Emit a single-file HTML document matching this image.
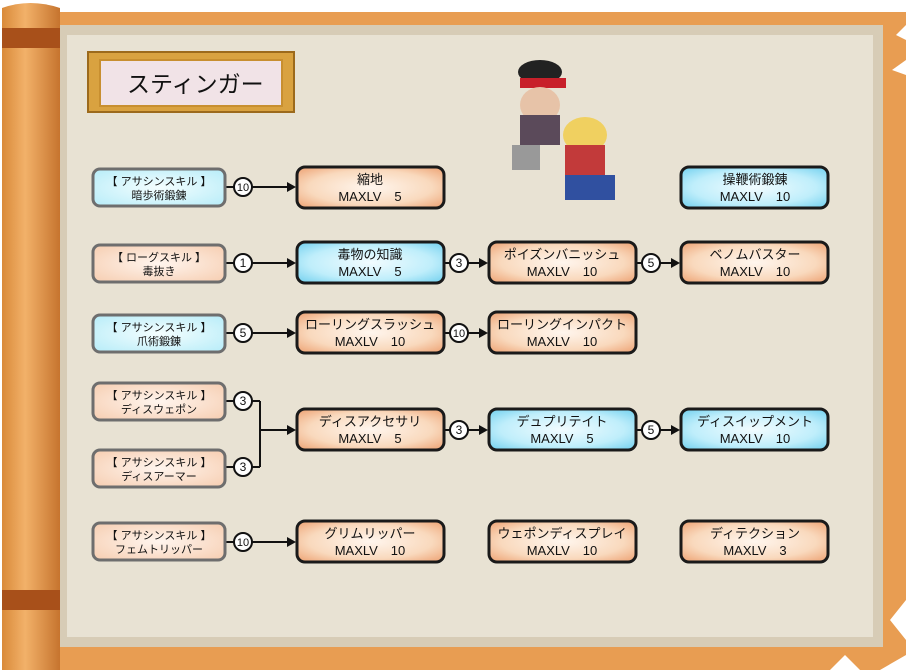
<!DOCTYPE html>
<html><head><meta charset="utf-8"><style>
body{margin:0;width:906px;height:670px;overflow:hidden;background:#fff}
svg{display:block}
text{font-family:"Liberation Sans","Noto Sans CJK JP",sans-serif;fill:#111}
</style></head><body>
<svg width="906" height="670" viewBox="0 0 906 670">
<defs>
<radialGradient id="og" cx="50%" cy="50%" r="70%"><stop offset="0" stop-color="#fff6ee"/><stop offset="0.6" stop-color="#f9d9bd"/><stop offset="1" stop-color="#eda070"/></radialGradient>
<radialGradient id="bg" cx="50%" cy="50%" r="70%"><stop offset="0" stop-color="#f2fcff"/><stop offset="0.6" stop-color="#bfeefb"/><stop offset="1" stop-color="#6fcfee"/></radialGradient>
<radialGradient id="os" cx="50%" cy="50%" r="70%"><stop offset="0" stop-color="#fff5ee"/><stop offset="1" stop-color="#f6cdb0"/></radialGradient>
<radialGradient id="bs" cx="50%" cy="50%" r="70%"><stop offset="0" stop-color="#f4feff"/><stop offset="1" stop-color="#b6ecf8"/></radialGradient>
<linearGradient id="roll" x1="0" x2="1"><stop offset="0" stop-color="#d98a3a"/><stop offset="0.4" stop-color="#f2b169"/><stop offset="1" stop-color="#c6742e"/></linearGradient>
</defs>
<!-- frame -->
<rect x="50" y="12" width="856" height="658" fill="#e89d52"/>
<path d="M906 25 L896 35 L906 40 Z M906 60 L892 70 L906 75 Z M906 600 L890 620 L906 640 Z M906 655 L880 670 L906 670 Z M830 670 L845 655 L860 670 Z M850 0 L906 0 L906 12 L850 12 Z" fill="#fff"/>
<rect x="62" y="30" width="816" height="612" fill="#e8e2d3"/>
<rect x="62" y="30" width="816" height="612" fill="none" stroke="#d7ccb6" stroke-width="10"/>
<!-- left roller -->
<path d="M2 8 Q30 -2 60 8 L60 670 L2 670 Z" fill="url(#roll)"/>
<rect x="2" y="28" width="58" height="20" fill="#a8501a"/>
<rect x="2" y="590" width="58" height="20" fill="#a8501a"/>
<!-- title -->
<rect x="88" y="52" width="206" height="60" fill="#d9a240" stroke="#9c6a1c" stroke-width="2"/>
<rect x="100" y="60" width="182" height="46" fill="#f1e3e7" stroke="#c88f30" stroke-width="2"/>
<text x="127" y="92" font-size="23">スティンガー</text>
<!-- sprites (approx) -->
<ellipse cx="540" cy="72" rx="22" ry="12" fill="#222"/>
<rect x="520" y="78" width="46" height="10" fill="#c8202a"/>
<ellipse cx="540" cy="105" rx="20" ry="18" fill="#e7c3a8"/>
<rect x="520" y="115" width="40" height="30" fill="#5b4a5a"/>
<rect x="512" y="145" width="28" height="25" fill="#999"/>
<ellipse cx="585" cy="135" rx="22" ry="18" fill="#f0d060"/>
<rect x="565" y="145" width="40" height="35" fill="#c23a3a"/>
<rect x="565" y="175" width="50" height="25" fill="#3050a0"/>
<!-- connectors -->
<g stroke="#111" stroke-width="2" fill="none">
<line x1="226" y1="187" x2="290" y2="187"/>
<line x1="226" y1="263" x2="290" y2="263"/>
<line x1="226" y1="333" x2="290" y2="333"/>
<line x1="445" y1="263" x2="482" y2="263"/>
<line x1="637" y1="263" x2="674" y2="263"/>
<line x1="445" y1="333" x2="482" y2="333"/>
<line x1="226" y1="401" x2="260" y2="401"/>
<line x1="226" y1="467" x2="260" y2="467"/>
<line x1="260" y1="401" x2="260" y2="467"/>
<line x1="260" y1="430" x2="290" y2="430"/>
<line x1="445" y1="430" x2="482" y2="430"/>
<line x1="637" y1="430" x2="674" y2="430"/>
<line x1="226" y1="542" x2="290" y2="542"/>
</g>
<g fill="#111">
<path d="M296 187 l-9 -5 v10z"/><path d="M296 263 l-9 -5 v10z"/><path d="M296 333 l-9 -5 v10z"/>
<path d="M488 263 l-9 -5 v10z"/><path d="M680 263 l-9 -5 v10z"/><path d="M488 333 l-9 -5 v10z"/>
<path d="M296 430 l-9 -5 v10z"/><path d="M488 430 l-9 -5 v10z"/><path d="M680 430 l-9 -5 v10z"/>
<path d="M296 542 l-9 -5 v10z"/>
</g>
<g fill="#fff" stroke="#111" stroke-width="2">
<circle cx="243" cy="187" r="9"/><circle cx="243" cy="263" r="9"/><circle cx="243" cy="333" r="9"/>
<circle cx="243" cy="401" r="9"/><circle cx="243" cy="467" r="9"/><circle cx="243" cy="542" r="9"/>
<circle cx="459" cy="263" r="9"/><circle cx="651" cy="263" r="9"/><circle cx="459" cy="333" r="9"/>
<circle cx="459" cy="430" r="9"/><circle cx="651" cy="430" r="9"/>
</g>
<g font-size="12" text-anchor="middle">
<text x="243" y="191" font-size="11">10</text><text x="243" y="267">1</text><text x="243" y="337">5</text>
<text x="243" y="405">3</text><text x="243" y="471">3</text><text x="243" y="546" font-size="11">10</text>
<text x="459" y="267">3</text><text x="651" y="267">5</text><text x="459" y="337" font-size="11">10</text>
<text x="459" y="434">3</text><text x="651" y="434">5</text>
</g>
<!-- small boxes -->
<g stroke="#6e6e6e" stroke-width="3">
<rect x="93" y="169" width="132" height="37" rx="7" fill="url(#bs)"/>
<rect x="93" y="245" width="132" height="37" rx="7" fill="url(#os)"/>
<rect x="93" y="315" width="132" height="37" rx="7" fill="url(#bs)"/>
<rect x="93" y="383" width="132" height="37" rx="7" fill="url(#os)"/>
<rect x="93" y="450" width="132" height="37" rx="7" fill="url(#os)"/>
<rect x="93" y="523" width="132" height="37" rx="7" fill="url(#os)"/>
</g>
<g font-size="11" text-anchor="middle">
<text x="159" y="185">【 アサシンスキル 】</text><text x="159" y="199">暗歩術鍛錬</text>
<text x="159" y="261">【 ローグスキル 】</text><text x="159" y="275">毒抜き</text>
<text x="159" y="331">【 アサシンスキル 】</text><text x="159" y="345">爪術鍛錬</text>
<text x="159" y="399">【 アサシンスキル 】</text><text x="159" y="413">ディスウェポン</text>
<text x="159" y="466">【 アサシンスキル 】</text><text x="159" y="480">ディスアーマー</text>
<text x="159" y="539">【 アサシンスキル 】</text><text x="159" y="553">フェムトリッパー</text>
</g>
<!-- main boxes -->
<g stroke="#1a1a1a" stroke-width="3">
<rect x="297" y="167" width="147" height="41" rx="8" fill="url(#og)"/>
<rect x="681" y="167" width="147" height="41" rx="8" fill="url(#bg)"/>
<rect x="297" y="242" width="147" height="41" rx="8" fill="url(#bg)"/>
<rect x="489" y="242" width="147" height="41" rx="8" fill="url(#og)"/>
<rect x="681" y="242" width="147" height="41" rx="8" fill="url(#og)"/>
<rect x="297" y="312" width="147" height="41" rx="8" fill="url(#og)"/>
<rect x="489" y="312" width="147" height="41" rx="8" fill="url(#og)"/>
<rect x="297" y="409" width="147" height="41" rx="8" fill="url(#og)"/>
<rect x="489" y="409" width="147" height="41" rx="8" fill="url(#bg)"/>
<rect x="681" y="409" width="147" height="41" rx="8" fill="url(#bg)"/>
<rect x="297" y="521" width="147" height="41" rx="8" fill="url(#og)"/>
<rect x="489" y="521" width="147" height="41" rx="8" fill="url(#og)"/>
<rect x="681" y="521" width="147" height="41" rx="8" fill="url(#og)"/>
</g>
<g font-size="13" text-anchor="middle">
<text x="370" y="184">縮地</text><text x="370" y="201">MAXLV　5</text>
<text x="755" y="184">操鞭術鍛錬</text><text x="755" y="201">MAXLV　10</text>
<text x="370" y="259">毒物の知識</text><text x="370" y="276">MAXLV　5</text>
<text x="562" y="259">ポイズンバニッシュ</text><text x="562" y="276">MAXLV　10</text>
<text x="755" y="259">ベノムバスター</text><text x="755" y="276">MAXLV　10</text>
<text x="370" y="329">ローリングスラッシュ</text><text x="370" y="346">MAXLV　10</text>
<text x="562" y="329">ローリングインパクト</text><text x="562" y="346">MAXLV　10</text>
<text x="370" y="426">ディスアクセサリ</text><text x="370" y="443">MAXLV　5</text>
<text x="562" y="426">デュプリテイト</text><text x="562" y="443">MAXLV　5</text>
<text x="755" y="426">ディスイップメント</text><text x="755" y="443">MAXLV　10</text>
<text x="370" y="538">グリムリッパー</text><text x="370" y="555">MAXLV　10</text>
<text x="562" y="538">ウェポンディスプレイ</text><text x="562" y="555">MAXLV　10</text>
<text x="755" y="538">ディテクション</text><text x="755" y="555">MAXLV　3</text>
</g>
</svg>
</body></html>
